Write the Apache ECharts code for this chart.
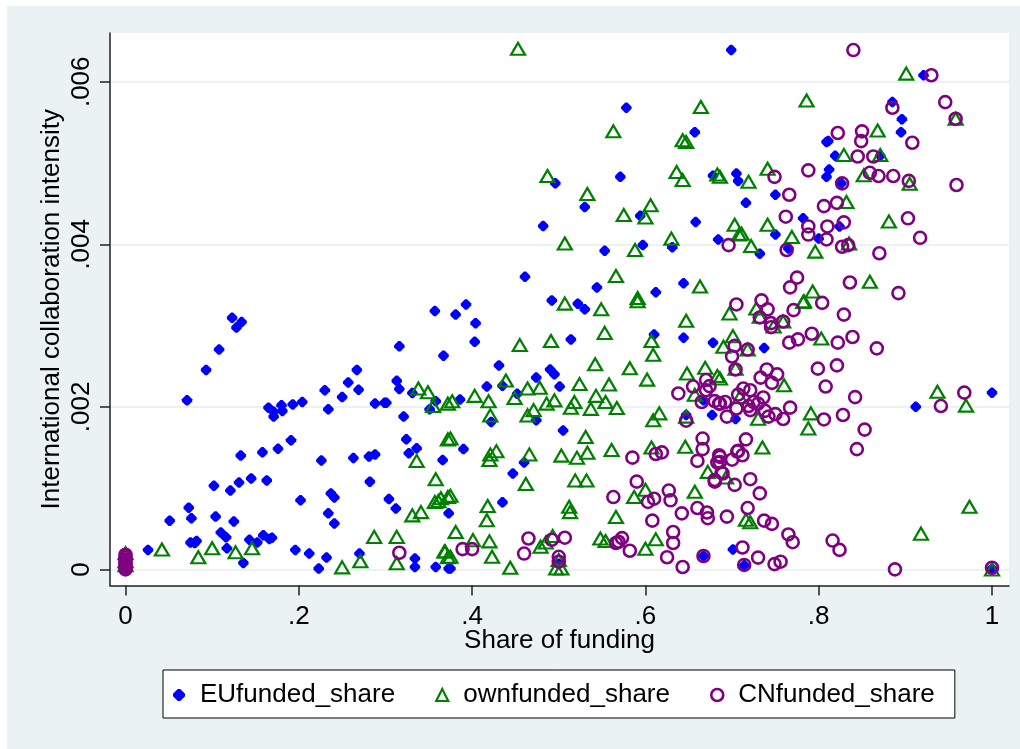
<!DOCTYPE html>
<html><head><meta charset="utf-8">
<script src="https://cdn.jsdelivr.net/npm/echarts@6/dist/echarts.min.js"></script>
<style>html,body{margin:0;padding:0;background:#fff}#c{position:absolute;left:7px;top:6px;width:1013px;height:743px}</style>
</head><body><div id="c"></div>
<script>
const xTicks=[0,.2,.4,.6,.8,1];
const yTicks=[0,.002,.004,.006];
const xTitle='Share of funding', yTitle='International collaboration intensity';
// [share of funding, intensity in thousandths]
const euPoints=[[0,.1],[.123,3.095],[.134,3.045],[.128,2.975],[.108,2.705],[.093,2.455],[.071,2.08],[.165,1.99],[.171,1.88],[.171,1.94],[.18,2.02],[.181,1.95],[.193,2.03],[.204,2.06],[.23,2.205],[.234,1.97],[.25,2.12],[.257,2.3],[.269,2.21],[.267,2.455],[.288,2.04],[.299,2.05],[.301,2.05],[.313,2.32],[.316,2.22],[.316,2.745],[.367,2.63],[.357,3.18],[.331,2.17],[.358,2.07],[.351,1.97],[.321,1.88],[.324,1.6],[.336,1.49],[.327,1.43],[.366,1.345],[.191,1.59],[.176,1.485],[.158,1.44],[.133,1.4],[.226,1.34],[.263,1.37],[.281,1.39],[.288,1.415],[.282,1.08],[.163,1.095],[.145,1.12],[.131,1.07],[.121,.97],[.102,1.03],[.073,.76],[.076,.63],[.051,.6],[.104,.65],[.125,.59],[.202,.85],[.237,.935],[.241,.885],[.234,.69],[.241,.565],[.304,.865],[.312,.75],[.373,.69],[.11,.455],[.116,.395],[.075,.33],[.082,.35],[.08,.325],[.143,.365],[.152,.33],[.159,.42],[.166,.375],[.169,.39],[.117,.26],[.136,.08],[.026,.24],[.196,.24],[.212,.195],[.232,.145],[.223,.01],[.27,.195],[.334,.135],[.334,.03],[.358,.03],[.373,.01],
[.393,3.26],[.381,3.135],[.404,3.03],[.403,2.8],[.492,3.31],[.522,3.27],[.53,3.2],[.514,2.83],[.431,2.51],[.61,2.89],[.644,2.85],[.678,2.79],[.49,2.46],[.495,2.4],[.474,2.36],[.417,2.25],[.435,2.26],[.452,2.16],[.386,2.09],[.501,2.25],[.422,1.815],[.474,1.835],[.505,1.71],[.39,1.48],[.46,1.315],[.447,1.18],[.435,.825],[.375,.01],[.667,.165],[.701,.245],[.677,1.9],[.647,1.9],[.704,1.85],[.667,2.08],[.5,.07],[.737,2.725],[.912,2],[1,2.175],[.714,.05],[1,.01],
[.699,6.39],[.578,5.68],[.657,5.38],[.571,4.83],[.496,4.75],[.678,4.845],[.705,4.87],[.707,4.78],[.53,4.46],[.594,4.35],[.482,4.225],[.658,4.275],[.684,4.06],[.597,3.99],[.631,3.965],[.553,3.92],[.461,3.6],[.544,3.47],[.612,3.41],[.644,3.52],
[.921,6.08],[.885,5.75],[.896,5.54],[.895,5.38],[.809,5.26],[.811,5.27],[.819,5.09],[.871,5.09],[.812,4.92],[.809,4.83],[.826,4.75],[.75,4.61],[.716,4.51],[.782,4.32],[.824,4.22],[.75,4.12],[.8,4.07],[.732,3.885],[.765,3.95]];
const ownPoints=[[0,.05],[0,.1],[0,.2],[.042,.245],[.084,.15],[.1,.26],[.127,.21],[.146,.26],[.25,.025],[.271,.1],[.287,.4],[.313,.4],[.313,.075],[.368,.22],[.372,.15],[.331,.665],[.341,.705],[.357,.83],[.361,.84],[.364,.875],[.372,.89],[.358,1.11],[.336,1.335],[.372,1.6],[.338,2.225],[.349,2.18],[.355,2.01],[.372,2.04],
[.507,3.27],[.549,3.2],[.591,3.3],[.647,3.06],[.697,3.15],[.553,2.91],[.491,2.81],[.455,2.76],[.607,2.81],[.609,2.64],[.701,2.87],[.69,2.74],[.542,2.525],[.582,2.475],[.602,2.335],[.648,2.41],[.669,2.48],[.683,2.38],[.439,2.325],[.464,2.225],[.478,2.235],[.524,2.28],[.558,2.275],[.403,2.135],[.377,2.07],[.419,2.07],[.449,2.11],[.486,2.04],[.495,2.08],[.518,2.06],[.514,1.99],[.543,2.135],[.554,2.06],[.537,1.975],[.567,1.985],[.471,1.96],[.464,1.895],[.421,1.895],[.616,1.92],[.609,1.835],[.647,1.88],[.657,2.15],[.375,1.61],[.531,1.63],[.428,1.455],[.421,1.415],[.42,1.345],[.466,1.415],[.503,1.4],[.521,1.375],[.533,1.435],[.561,1.47],[.607,1.5],[.646,1.51],[.672,1.2],[.693,1.13],[.462,1.05],[.519,1.095],[.532,1.095],[.6,.98],[.587,.89],[.657,.955],[.375,.905],[.418,.78],[.417,.605],[.512,.77],[.513,.705],[.566,.645],[.381,.46],[.401,.36],[.42,.345],[.369,.22],[.375,.155],[.423,.155],[.444,.02],[.479,.28],[.485,.33],[.493,.41],[.5,.115],[.497,.01],[.503,.01],[.548,.38],[.554,.35],[.6,.255],[.612,.37],
[.728,3.21],[.732,3.11],[.782,3.29],[.759,3.05],[.748,2.99],[.718,2.705],[.704,2.47],[.686,2.35],[.803,2.84],[.76,2.265],[.709,2.12],[.73,1.855],[.791,1.92],[.788,1.735],[.735,1.5],[.937,2.185],[.97,2.015],[.716,.61],[.721,.58],[.974,.77],[.918,.44],[1,0],
[.453,6.405],[.664,5.69],[.563,5.39],[.643,5.28],[.647,5.26],[.636,4.89],[.643,4.79],[.683,4.86],[.487,4.84],[.533,4.62],[.606,4.48],[.575,4.36],[.6,4.33],[.703,4.24],[.708,4.12],[.63,4.07],[.507,4.01],[.588,3.93],[.566,3.61],[.663,3.48],[.591,3.34],
[.901,6.1],[.786,5.77],[.958,5.545],[.868,5.4],[.829,5.1],[.871,5.1],[.852,4.85],[.905,4.745],[.741,4.93],[.719,4.77],[.686,4.83],[.832,4.52],[.881,4.28],[.711,4.13],[.741,4.24],[.722,3.98],[.769,4.09],[.796,3.91],[.835,4.01],[.859,3.54],[.793,3.42],[.783,3.3]];
const cnPoints=[[0,0],[0,.03],[0,.06],[0,.09],[0,.12],[0,.15],[0,.18],[.316,.205],
[.84,6.39],[.93,6.08],[.946,5.75],[.885,5.68],[.958,5.545],[.822,5.37],[.85,5.39],[.849,5.27],[.908,5.25],[.845,5.08],[.863,5.08],[.859,4.88],[.869,4.84],[.886,4.84],[.904,4.78],[.959,4.73],[.827,4.75],[.749,4.83],[.788,4.91],[.766,4.61],[.821,4.51],[.806,4.47],[.762,4.34],[.903,4.32],[.788,4.22],[.81,4.22],[.829,4.27],[.788,4.12],[.809,4.06],[.917,4.08],[.696,3.99],[.763,3.93],[.827,3.97],[.834,3.99],[.87,3.89],[.775,3.59],[.767,3.47],[.836,3.53],[.892,3.4],
[.705,3.26],[.734,3.31],[.741,3.2],[.771,3.19],[.804,3.28],[.829,3.135],[.732,3.1],[.745,3.03],[.745,2.98],[.759,3.05],[.792,2.9],[.776,2.83],[.766,2.79],[.822,2.79],[.839,2.86],[.867,2.72],[.703,2.75],[.718,2.705],[.7,2.62],[.704,2.46],[.799,2.47],[.821,2.51],[.74,2.46],[.752,2.4],[.733,2.36],[.746,2.295],[.808,2.25],[.713,2.225],[.721,2.205],[.707,2.15],[.736,2.115],[.842,2.12],[.968,2.175],[.941,2.01],[.692,2.06],[.686,2.04],[.725,2.06],[.719,2.01],[.73,2.04],[.705,1.98],[.721,1.96],[.738,1.95],[.75,1.91],[.767,1.99],[.742,1.88],[.759,1.85],[.694,1.88],[.806,1.845],[.828,1.9],[.853,1.72],[.844,1.48],[.716,1.6],[.707,1.46],[.712,1.405],[.7,1.35],[.686,1.385],[.686,1.32],[.689,1.18],[.721,1.11],[.703,1.04],[.732,.935],[.718,.755],[.694,.65],[.737,.6],[.746,.56],[.765,.43],[.77,.335],[.816,.355],[.824,.24],[.712,.27],[.73,.145],[.714,.055],[.749,.065],[.756,.095],[.888,0],[1,.02],
[.655,2.25],[.638,2.165],[.67,2.33],[.674,2.255],[.67,2.205],[.665,2.06],[.68,2.07],[.685,2.04],[.647,1.83],[.666,1.61],[.666,1.48],[.66,1.335],[.706,1.45],[.685,1.405],[.683,1.315],[.688,1.19],[.68,1.1],[.68,1.08],[.585,1.375],[.612,1.42],[.619,1.44],[.59,1.08],[.563,.89],[.627,.97],[.629,.85],[.61,.87],[.603,.83],[.642,.69],[.66,.755],[.671,.7],[.672,.63],[.608,.6],[.632,.46],[.632,.325],[.573,.385],[.566,.325],[.569,.34],[.582,.23],[.625,.15],[.643,.03],[.667,.165],[.465,.38],[.507,.39],[.492,.365],[.46,.195],[.389,.25],[.4,.25],[.5,.155],[.5,.095]];

const seriesDefs=[
 {name:'EUfunded_share',points:euPoints,symbol:'path://M4 0L6 0L10 4L10 6L6 10L4 10L0 6L0 4Z',size:10.5,item:{color:'#0000ff',borderWidth:0,opacity:1}},
 {name:'ownfunded_share',points:ownPoints,symbol:'triangle',size:[14,12],item:{color:'rgba(0,0,0,0)',borderColor:'#008000',borderWidth:2.2,opacity:1}},
 {name:'CNfunded_share',points:cnPoints,symbol:'circle',size:12,item:{color:'rgba(0,0,0,0)',borderColor:'#800080',borderWidth:2.6,opacity:1}}
];
const fmt=v=>v===0?'0':(v===1?'1':String(v).replace(/^0/,''));
const font='"Liberation Sans", Arial, sans-serif';
const axisColor='#222';
const chart=echarts.init(document.getElementById('c'),null,{renderer:'canvas'});
chart.setOption({
 animation:false,
 backgroundColor:'#eaf2f3',
 grid:{left:103,top:27,width:899,height:552.5,show:true,backgroundColor:'#fff',borderWidth:0},
 xAxis:{type:'value',min:-0.0179,max:1.0196,name:xTitle,nameLocation:'middle',nameGap:42,nameMoveOverlap:false,
  nameTextStyle:{fontFamily:font,fontSize:26,color:'#000'},
  axisLine:{show:true,onZero:false,lineStyle:{color:axisColor,width:1.5}},
  axisTick:{show:true,length:10,customValues:xTicks,lineStyle:{color:axisColor,width:1.5}},
  axisLabel:{customValues:xTicks,formatter:fmt,fontFamily:font,fontSize:26,color:'#000',margin:18},
  splitLine:{show:false}},
 yAxis:{type:'value',min:-0.000198,max:0.0066,name:yTitle,nameLocation:'middle',nameGap:45,nameMoveOverlap:false,
  nameTextStyle:{fontFamily:font,fontSize:26,color:'#000'},
  axisLine:{show:true,onZero:false,lineStyle:{color:axisColor,width:1.5}},
  axisTick:{show:true,length:10,customValues:yTicks,lineStyle:{color:axisColor,width:1.5}},
  axisLabel:{customValues:yTicks,formatter:fmt,rotate:90,fontFamily:font,fontSize:26,color:'#000',margin:15},
  splitLine:{show:true,lineStyle:{color:'#eaf2f3',width:2}}},
 legend:{left:156,top:664,orient:'horizontal',backgroundColor:'#fff',borderColor:'#000',borderWidth:1,
  padding:[12,20,10,10],itemGap:40,itemWidth:12,itemHeight:12,
  itemStyle:{borderWidth:'inherit'},
  textStyle:{fontFamily:font,fontSize:26,color:'#000',padding:[0,0,0,10]},
  data:seriesDefs.map(s=>s.name)},
 series:seriesDefs.map(s=>({type:'scatter',name:s.name,symbol:s.symbol,symbolSize:s.size,itemStyle:s.item,
  data:s.points.map(p=>[p[0],p[1]/1000]),clip:false,silent:true}))
});
</script></body></html>
